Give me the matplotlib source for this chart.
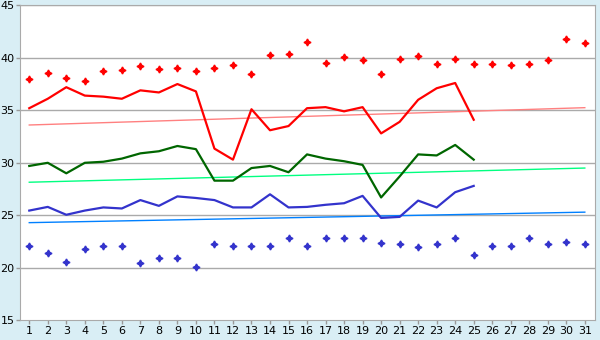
import matplotlib.pyplot as plt
import numpy as np

days = np.arange(1, 32)
days_line = np.arange(1, 26)

red_pts = [38.0, 38.6, 38.1, 37.8, 38.7, 38.8, 39.2, 38.9, 39.0, 38.7,
           39.0, 39.35, 38.5, 40.3, 40.4, 41.5, 39.5, 40.1, 39.8, 38.5,
           39.9, 40.2, 39.45, 39.9, 39.45, 39.45, 39.35, 39.45, 39.8, 41.8, 41.45]
red_line = [35.2, 36.1, 37.2, 36.4, 36.3, 36.1, 36.9, 36.7, 37.5, 36.8,
            31.35, 30.3, 35.1, 33.1, 33.5, 35.2, 35.3, 34.9, 35.3, 32.8,
            33.9, 36.0, 37.1, 37.6, 34.1]
green_line = [29.7, 30.0, 29.0, 30.0, 30.1, 30.4, 30.9, 31.1, 31.6, 31.3,
              28.3, 28.3, 29.5, 29.7, 29.1, 30.8, 30.4, 30.15, 29.8, 26.7,
              28.7, 30.8, 30.7, 31.7, 30.3]
blue_line = [25.45, 25.8, 25.05, 25.45, 25.75, 25.65, 26.45, 25.9, 26.8, 26.65,
             26.45, 25.75, 25.75, 27.0, 25.75, 25.8, 26.0, 26.15, 26.85, 24.75,
             24.85, 26.4, 25.75, 27.2, 27.8]
blue_pts = [22.05, 21.4, 20.6, 21.75, 22.05, 22.05, 20.5, 20.9, 20.9, 20.05,
            22.25, 22.05, 22.05, 22.05, 22.8, 22.05, 22.8, 22.8, 22.8, 22.35,
            22.25, 21.95, 22.25, 22.8, 21.2, 22.05, 22.05, 22.8, 22.25, 22.45, 22.25]

trend_x = [1, 31]
trend_red = [33.6, 35.25]
trend_green = [28.15, 29.5]
trend_blue = [24.3, 25.3]

fig = plt.figure(figsize=(6, 3.4), dpi=100, facecolor='#D9EEF5')
ax = fig.add_axes([20/600, 1-320.3/340, 575/600, 315/340])
ax.set_facecolor('white')

for y in range(20, 46, 5):
    ax.axhline(y, color='#AAAAAA', lw=1, zorder=0)

ax.plot(trend_x, trend_red, color='#FF8080', lw=1)
ax.plot(trend_x, trend_green, color='#00FF80', lw=1)
ax.plot(trend_x, trend_blue, color='#0080FF', lw=1)

ax.plot(days_line, red_line, color='#FF0000', lw=1.6)
ax.plot(days_line, green_line, color='#006600', lw=1.6)
ax.plot(days_line, blue_line, color='#3333CC', lw=1.6)

ax.plot(days, red_pts, ls='none', marker=(4, 1, 0), ms=5, color='#FF0000', mew=1)
ax.plot(days, blue_pts, ls='none', marker=(4, 1, 0), ms=5, color='#3333CC', mew=1)

ax.set_xlim(0.5, 31.55)
ax.set_ylim(15, 45)
ax.set_xticks(days)
ax.set_yticks(range(15, 46, 5))
ax.tick_params(labelsize=8, length=3, width=1, color='#999999', pad=1)
for s in ax.spines.values():
    s.set_color('#AAAAAA')

fig.savefig('out.png', dpi=100, facecolor=fig.get_facecolor())
